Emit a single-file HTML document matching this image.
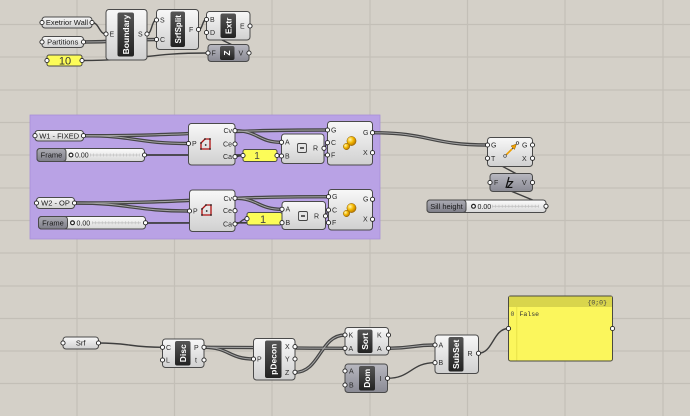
<!DOCTYPE html>
<html><head><meta charset="utf-8"><style>
html,body{margin:0;padding:0;background:#d4d0c8;}
svg{display:block;}
text{font-family:"Liberation Sans",sans-serif;}
.l{font-size:7px;fill:#2a2a2a;}
.b{font-size:8.5px;font-weight:bold;fill:#fff;}
.p{font-size:7.5px;fill:#1a1a1a;}
.w{fill:none;stroke:#3e3e3e;stroke-width:1.4;}
.d{fill:none;stroke:#444;stroke-width:3.4;}
.di{fill:none;stroke:#a4a4a4;stroke-width:1;}
.g{fill:#fff;stroke:#222;stroke-width:0.9;}
.c{fill:url(#gC);stroke:#4a4a4a;stroke-width:1;}
.k{fill:url(#gK);stroke:#4a4a4a;stroke-width:1;}
.bar{fill:url(#gB);}
</style></head><body>
<svg width="690" height="416" viewBox="0 0 690 416" xmlns="http://www.w3.org/2000/svg">
<defs>
<linearGradient id="gC" x1="0" y1="0" x2="0" y2="1"><stop offset="0" stop-color="#f8f8f8"/><stop offset="1" stop-color="#d0d0d0"/></linearGradient>
<linearGradient id="gK" x1="0" y1="0" x2="0" y2="1"><stop offset="0" stop-color="#b8b8c0"/><stop offset="1" stop-color="#8a8a94"/></linearGradient>
<linearGradient id="gB" x1="0" y1="0" x2="0" y2="1"><stop offset="0" stop-color="#555"/><stop offset="1" stop-color="#222"/></linearGradient>
<linearGradient id="gL" x1="0" y1="0" x2="0" y2="1"><stop offset="0" stop-color="#acacb4"/><stop offset="1" stop-color="#7e7e88"/></linearGradient>
<linearGradient id="gV" x1="0" y1="0" x2="0" y2="1"><stop offset="0" stop-color="#fcfcfc"/><stop offset="1" stop-color="#d8d8d8"/></linearGradient>
<radialGradient id="gS" cx="0.35" cy="0.35" r="0.7"><stop offset="0" stop-color="#fff6b0"/><stop offset="0.5" stop-color="#f5b800"/><stop offset="1" stop-color="#b07000"/></radialGradient>
</defs>

<!-- background + grid -->
<rect x="0" y="0" width="690" height="416" fill="#d4d0c8"/>
<g stroke="#c3bfb7" stroke-width="1.2">
<line x1="77" y1="0" x2="77" y2="416"/><line x1="174.5" y1="0" x2="174.5" y2="416"/><line x1="272" y1="0" x2="272" y2="416"/><line x1="370" y1="0" x2="370" y2="416"/><line x1="467.5" y1="0" x2="467.5" y2="416"/><line x1="565" y1="0" x2="565" y2="416"/><line x1="663" y1="0" x2="663" y2="416"/>
<line x1="0" y1="24.5" x2="690" y2="24.5"/><line x1="0" y1="57" x2="690" y2="57"/><line x1="0" y1="90" x2="690" y2="90"/><line x1="0" y1="122.5" x2="690" y2="122.5"/><line x1="0" y1="155" x2="690" y2="155"/><line x1="0" y1="188" x2="690" y2="188"/><line x1="0" y1="220.5" x2="690" y2="220.5"/><line x1="0" y1="253" x2="690" y2="253"/><line x1="0" y1="286" x2="690" y2="286"/><line x1="0" y1="318.5" x2="690" y2="318.5"/><line x1="0" y1="351" x2="690" y2="351"/><line x1="0" y1="383.5" x2="690" y2="383.5"/>
</g>

<!-- group -->
<rect x="30" y="115" width="350" height="124" fill="#b9a2e5" stroke="#a890d8" stroke-width="0.8"/>

<!-- wires: double -->
<g>
<path class="d" d="M83.5,42 C120,42 120,39.5 156.5,39.5"/>
<path class="d" d="M83.5,135.7 C136,135.7 136,143.5 188.5,143.5"/>
<path class="d" d="M83.5,135.7 C205,135.7 205,130 327.5,130"/>
<path class="d" d="M235,130.7 C258,130.7 258,142.3 281.5,142.3"/>
<path class="d" d="M372.5,132.7 C430,132.7 430,145 487.5,145"/>
<path class="d" d="M74.5,203 C132,203 132,211 189.5,211"/>
<path class="d" d="M74.5,203 C200,203 200,196.7 328.5,196.7"/>
<path class="d" d="M235,198.3 C258,198.3 258,209.3 282,209.3"/>
<path class="d" d="M204,347.3 C229,347.3 229,359 253.5,359"/>
<path class="d" d="M204,347.3 C275,347.3 275,348.3 345,348.3"/>
<path class="d" d="M295,372.3 C320,372.3 320,335 345,335"/>
<path class="d" d="M388.5,348.3 C412,348.3 412,345 435,345"/>
</g>
<g>
<path class="di" d="M83.5,42 C120,42 120,39.5 156.5,39.5"/>
<path class="di" d="M83.5,135.7 C136,135.7 136,143.5 188.5,143.5"/>
<path class="di" d="M83.5,135.7 C205,135.7 205,130 327.5,130"/>
<path class="di" d="M235,130.7 C258,130.7 258,142.3 281.5,142.3"/>
<path class="di" d="M372.5,132.7 C430,132.7 430,145 487.5,145"/>
<path class="di" d="M74.5,203 C132,203 132,211 189.5,211"/>
<path class="di" d="M74.5,203 C200,203 200,196.7 328.5,196.7"/>
<path class="di" d="M235,198.3 C258,198.3 258,209.3 282,209.3"/>
<path class="di" d="M204,347.3 C229,347.3 229,359 253.5,359"/>
<path class="di" d="M204,347.3 C275,347.3 275,348.3 345,348.3"/>
<path class="di" d="M295,372.3 C320,372.3 320,335 345,335"/>
<path class="di" d="M388.5,348.3 C412,348.3 412,345 435,345"/>
</g>
<!-- wires: single -->
<g>
<path class="w" d="M92,22.5 C99,22.5 99,34 106,34"/>
<path class="w" d="M147,34 C152,34 151.5,20 156.5,20"/>
<path class="w" d="M82,60.5 C145,60.5 145,53 208,53"/>
<path class="w" d="M198.5,29.5 C203,29.5 202,19.5 206.5,19.5"/>
<path class="w" d="M249,53 L206.5,32.5"/>
<path class="w" style="stroke-width:1.7" d="M144.5,155 L327.5,155"/>
<path class="w" d="M235,156.7 C239,156.7 239,155.5 243,155.5"/>
<path class="w" d="M277,155.5 C279,155.5 279,156 281.5,156"/>
<path class="w" d="M324,148.3 C326,148.3 325.5,142.7 327.5,142.7"/>
<path class="w" style="stroke-width:1.7" d="M145.5,223 L328.5,222.7"/>
<path class="w" d="M235,224 C241,224 241,218.7 247,218.7"/>
<path class="w" d="M325.5,216 C327,216 327,210 328.5,210"/>
<path class="w" d="M546,205.5 L490,182.5"/>
<path class="w" d="M532.5,182.5 L487.5,158.3"/>
<path class="w" d="M98.5,343 C130,343 130,347.3 162.5,347.3"/>
<path class="w" d="M387.5,378.3 C411,378.3 411,362.7 435,362.7"/>
<path class="w" d="M478.5,353.3 C493,353.3 493,328.5 508.5,328.5"/>
</g>

<!-- ===== top row ===== -->
<rect class="c" x="42" y="17" width="50" height="11" rx="3"/>
<text class="p" x="67" y="25" text-anchor="middle">Exetrior Wall</text>
<rect class="c" x="42" y="36.5" width="41.5" height="11" rx="3"/>
<text class="p" x="62.7" y="44.5" text-anchor="middle">Partitions</text>
<rect x="47" y="55" width="35" height="11" rx="2" fill="#fcfc58" stroke="#4a4a4a" stroke-width="1"/>
<text x="65" y="64.5" text-anchor="middle" style="font-size:11px;fill:#333;">10</text>

<rect class="c" x="106" y="9.5" width="41" height="50.5" rx="3"/>
<rect class="bar" x="117.5" y="12.5" width="16.5" height="44" rx="2"/>
<text class="b" transform="translate(126,34.5) rotate(-90)" x="0" y="3" text-anchor="middle">Boundary</text>
<text class="l" x="109.5" y="36.5">E</text><text class="l" x="138" y="36.5">S</text>

<rect class="c" x="156.5" y="9.5" width="42" height="40" rx="3"/>
<rect class="bar" x="170.5" y="11.5" width="14.5" height="35.5" rx="2"/>
<text class="b" transform="translate(177.8,29.3) rotate(-90)" x="0" y="3" text-anchor="middle" style="font-size:8px">SrfSplit</text>
<text class="l" x="160" y="22.5">S</text><text class="l" x="160" y="42">C</text><text class="l" x="189" y="32">F</text>

<rect class="c" x="206.5" y="11.5" width="43.5" height="28.5" rx="3"/>
<rect class="bar" x="220.5" y="13.5" width="15.5" height="24.5" rx="2"/>
<text class="b" transform="translate(228.3,25.8) rotate(-90)" x="0" y="3" text-anchor="middle">Extr</text>
<text class="l" x="210" y="22">B</text><text class="l" x="210" y="35">D</text><text class="l" x="240" y="28.5">E</text>

<rect class="k" x="208" y="44.5" width="41" height="17" rx="3"/>
<rect class="bar" x="220" y="46" width="14.5" height="14" rx="2"/>
<text class="b" transform="translate(227.2,53) rotate(-90)" x="0" y="3" text-anchor="middle">Z</text>
<text class="l" x="211.5" y="55.5">F</text><text class="l" x="238.5" y="55.5">V</text>

<!-- ===== group section 1 ===== -->
<rect class="c" x="35" y="130.5" width="48.5" height="10.5" rx="3"/>
<text class="p" x="59.2" y="138.3" text-anchor="middle">W1 - FIXED</text>

<rect x="37" y="148.5" width="107.5" height="13" rx="3" fill="url(#gV)" stroke="#4a4a4a" stroke-width="1"/>
<rect x="37" y="148.5" width="29" height="13" rx="3" fill="url(#gL)" stroke="#4a4a4a" stroke-width="1"/>
<text class="p" x="51.5" y="157.6" text-anchor="middle">Frame</text>
<circle cx="71" cy="155" r="1.9" fill="#fff" stroke="#222" stroke-width="1.2"/>
<text class="p" x="75" y="157.6" style="font-size:7px">0.00</text>
<line x1="90" y1="155" x2="140" y2="155" stroke="#c4c4c4" stroke-width="0.8"/>
<line x1="90" y1="155" x2="140" y2="155" stroke="#c0c0c0" stroke-width="3" stroke-dasharray="0.7 2.6"/>

<rect class="c" x="188.5" y="123.5" width="46.5" height="41.5" rx="3"/>
<polygon points="201,143 205,139 210,139 210,149 201,149" fill="none" stroke="#b01010" stroke-width="1.3"/>
<g fill="#222"><circle cx="201" cy="143" r="0.9"/><circle cx="205" cy="139" r="0.9"/><circle cx="210" cy="139" r="0.9"/><circle cx="210" cy="149" r="0.9"/><circle cx="201" cy="149" r="0.9"/><circle cx="205.7" cy="145" r="0.9"/></g>
<text class="l" x="192" y="146">P</text>
<text class="l" x="232" y="133.2" text-anchor="end">Cv</text><text class="l" x="232" y="146.5" text-anchor="end">Ce</text><text class="l" x="232" y="159.2" text-anchor="end">Ca</text>

<rect x="243" y="149.5" width="34" height="12" rx="2" fill="#fcfc58" stroke="#4a4a4a" stroke-width="1"/>
<text x="257" y="159" text-anchor="middle" style="font-size:10px;fill:#444;">1</text>

<rect class="c" x="281.5" y="134" width="42.5" height="29.5" rx="3"/>
<rect x="297.5" y="143.5" width="9" height="9" rx="1.5" fill="#e4e4e4" stroke="#444" stroke-width="0.9"/>
<line x1="300" y1="148" x2="304" y2="148" stroke="#111" stroke-width="1.3"/>
<text class="l" x="285" y="144.7">A</text><text class="l" x="285" y="158.4">B</text><text class="l" x="313" y="150.7">R</text>

<rect class="c" x="327.5" y="121.5" width="45" height="43.5" rx="3"/>
<circle cx="351.5" cy="141" r="4.6" fill="url(#gS)" stroke="#8a5a00" stroke-width="0.5"/>
<circle cx="346.5" cy="146.5" r="3.2" fill="url(#gS)" stroke="#8a5a00" stroke-width="0.5"/>
<text class="l" x="331" y="132.4">G</text><text class="l" x="331" y="145.1">C</text><text class="l" x="331" y="157.4">F</text>
<text class="l" x="363" y="135.1">G</text><text class="l" x="363" y="155.1">X</text>

<!-- ===== group section 2 ===== -->
<rect class="c" x="36.5" y="197.5" width="38" height="11" rx="3"/>
<text class="p" x="55.5" y="205.6" text-anchor="middle">W2 - OP</text>

<rect x="38.5" y="216.5" width="107" height="12.5" rx="3" fill="url(#gV)" stroke="#4a4a4a" stroke-width="1"/>
<rect x="38.5" y="216.5" width="29" height="12.5" rx="3" fill="url(#gL)" stroke="#4a4a4a" stroke-width="1"/>
<text class="p" x="53" y="225.4" text-anchor="middle">Frame</text>
<circle cx="72.5" cy="222.8" r="1.9" fill="#fff" stroke="#222" stroke-width="1.2"/>
<text class="p" x="76.5" y="225.4" style="font-size:7px">0.00</text>
<line x1="92" y1="222.8" x2="141" y2="222.8" stroke="#c4c4c4" stroke-width="0.8"/>
<line x1="92" y1="222.8" x2="141" y2="222.8" stroke="#c0c0c0" stroke-width="3" stroke-dasharray="0.7 2.6"/>

<rect class="c" x="189.5" y="190" width="45.5" height="41.5" rx="3"/>
<polygon points="202,209 206,205 211,205 211,215 202,215" fill="none" stroke="#b01010" stroke-width="1.3"/>
<g fill="#222"><circle cx="202" cy="209" r="0.9"/><circle cx="206" cy="205" r="0.9"/><circle cx="211" cy="205" r="0.9"/><circle cx="211" cy="215" r="0.9"/><circle cx="202" cy="215" r="0.9"/><circle cx="206.7" cy="211" r="0.9"/></g>
<text class="l" x="193" y="213.5">P</text>
<text class="l" x="232" y="200.8" text-anchor="end">Cv</text><text class="l" x="232" y="213.2" text-anchor="end">Ce</text><text class="l" x="232" y="226.5" text-anchor="end">Ca</text>

<rect x="247" y="212.5" width="35" height="12.5" rx="2" fill="#fcfc58" stroke="#4a4a4a" stroke-width="1"/>
<text x="263" y="223" text-anchor="middle" style="font-size:11px;fill:#444;">1</text>

<rect class="c" x="282" y="201.5" width="43.5" height="28" rx="3"/>
<rect x="298.5" y="211.5" width="9" height="9" rx="1.5" fill="#e4e4e4" stroke="#444" stroke-width="0.9"/>
<line x1="301" y1="216" x2="305" y2="216" stroke="#111" stroke-width="1.3"/>
<text class="l" x="285.5" y="211.7">A</text><text class="l" x="285.5" y="225.1">B</text><text class="l" x="314" y="218.4">R</text>

<rect class="c" x="328.5" y="189.5" width="44" height="40.5" rx="3"/>
<circle cx="351.5" cy="208" r="4.6" fill="url(#gS)" stroke="#8a5a00" stroke-width="0.5"/>
<circle cx="346.5" cy="213.5" r="3.2" fill="url(#gS)" stroke="#8a5a00" stroke-width="0.5"/>
<text class="l" x="332" y="199.1">G</text><text class="l" x="332" y="212.4">C</text><text class="l" x="332" y="225.1">F</text>
<text class="l" x="363" y="201.7">G</text><text class="l" x="363" y="221.7">X</text>

<!-- ===== right section ===== -->
<rect class="c" x="487.5" y="137.5" width="45" height="29" rx="3"/>
<line x1="505" y1="156" x2="513" y2="148" stroke="#444" stroke-width="1"/>
<polygon points="511,146 516.5,144 514.5,149.5" fill="#f0a000" stroke="#8a5a00" stroke-width="0.5"/>
<line x1="506.5" y1="154.5" x2="512" y2="149" stroke="#f0a000" stroke-width="1.6"/>
<circle cx="505" cy="156" r="1.3" fill="#fff" stroke="#333" stroke-width="0.7"/>
<circle cx="517.5" cy="143" r="1.3" fill="#fff" stroke="#333" stroke-width="0.7"/>
<text class="l" x="491" y="147.5">G</text><text class="l" x="491" y="160.8">T</text>
<text class="l" x="522" y="147.5">G</text><text class="l" x="522" y="160.8">X</text>

<rect class="k" x="490" y="173.5" width="42.5" height="18" rx="3"/>
<text x="507" y="188" style="font-size:10px;font-weight:bold;font-style:italic;fill:#111;">Z</text>
<line x1="506" y1="188" x2="509" y2="177" stroke="#111" stroke-width="1.3"/>
<text class="l" x="494" y="185">F</text><text class="l" x="522" y="185">V</text>

<rect x="427" y="200" width="119" height="12.5" rx="3" fill="url(#gV)" stroke="#4a4a4a" stroke-width="1"/>
<rect x="427" y="200" width="39" height="12.5" rx="3" fill="url(#gL)" stroke="#4a4a4a" stroke-width="1"/>
<text class="p" x="446.5" y="209" text-anchor="middle">Sill height</text>
<circle cx="473.5" cy="206.3" r="1.9" fill="#fff" stroke="#222" stroke-width="1.2"/>
<text class="p" x="477.5" y="209" style="font-size:7px">0.00</text>
<line x1="492" y1="206.3" x2="539" y2="206.3" stroke="#c4c4c4" stroke-width="0.8"/>
<line x1="492" y1="206.3" x2="539" y2="206.3" stroke="#c0c0c0" stroke-width="3" stroke-dasharray="0.7 2.6"/>

<!-- ===== bottom section ===== -->
<rect class="c" x="63" y="337" width="35.5" height="12" rx="3"/>
<text class="p" x="80.7" y="345.6" text-anchor="middle">Srf</text>

<rect class="c" x="162.5" y="339" width="41.5" height="28.5" rx="3"/>
<rect class="bar" x="175" y="341" width="15.5" height="24.5" rx="2"/>
<text class="b" transform="translate(182.8,353.3) rotate(-90)" x="0" y="3" text-anchor="middle">Disc</text>
<text class="l" x="166" y="349.8">C</text><text class="l" x="166" y="362.5">L</text>
<text class="l" x="194" y="349.8">P</text><text class="l" x="195" y="362.5">t</text>

<rect class="c" x="253.5" y="338.5" width="41.5" height="41.5" rx="3"/>
<rect class="bar" x="265" y="340.5" width="16.5" height="37.5" rx="2"/>
<text class="b" transform="translate(273.3,359.3) rotate(-90)" x="0" y="3" text-anchor="middle">pDecon</text>
<text class="l" x="257" y="361.5">P</text>
<text class="l" x="285" y="349.2">X</text><text class="l" x="285" y="361.5">Y</text><text class="l" x="285" y="374.8">Z</text>

<rect class="c" x="345" y="327.5" width="43.5" height="27.5" rx="3"/>
<rect class="bar" x="357.5" y="329.5" width="15" height="23.5" rx="2"/>
<text class="b" transform="translate(365,341.3) rotate(-90)" x="0" y="3" text-anchor="middle">Sort</text>
<text class="l" x="348.5" y="337.5">K</text><text class="l" x="348.5" y="350.8">A</text>
<text class="l" x="377" y="337.5">K</text><text class="l" x="377" y="350.8">A</text>

<rect class="k" x="345" y="364" width="42.5" height="28.5" rx="3"/>
<rect class="bar" x="359" y="366" width="16" height="24.5" rx="2"/>
<text class="b" transform="translate(367,378.3) rotate(-90)" x="0" y="3" text-anchor="middle">Dom</text>
<text class="l" x="349" y="373.5">A</text><text class="l" x="349" y="387.5">B</text>
<text class="l" x="379.5" y="380.8">I</text>

<rect class="c" x="435" y="335" width="43.5" height="38.5" rx="3"/>
<rect class="bar" x="448.5" y="337" width="15" height="34.5" rx="2"/>
<text class="b" transform="translate(456,354.3) rotate(-90)" x="0" y="3" text-anchor="middle">SubSet</text>
<text class="l" x="438.5" y="347.5">A</text><text class="l" x="438.5" y="365.2">B</text>
<text class="l" x="467.5" y="355.8">R</text>

<rect x="508.5" y="296" width="104" height="65" rx="2" fill="#fbf65c" stroke="#4a4a40" stroke-width="1"/>
<rect x="509" y="296.5" width="103" height="10.5" fill="#d9d54c"/>
<line x1="516.8" y1="307" x2="516.8" y2="360.5" stroke="#e2dc44" stroke-width="0.8"/>
<text x="607" y="304.5" text-anchor="end" style="font-family:'Liberation Mono',monospace;font-size:6.5px;fill:#444;">{0;0}</text>
<text x="510.5" y="316" style="font-family:'Liberation Mono',monospace;font-size:6.5px;fill:#444;">0</text>
<text x="519.5" y="316" style="font-family:'Liberation Mono',monospace;font-size:6.5px;fill:#333;">False</text>

<!-- grips -->
<g>
<circle class="g" cx="42" cy="22.5" r="2.1"/><circle class="g" cx="92" cy="22.5" r="2.1"/>
<circle class="g" cx="42" cy="42" r="2.1"/><circle class="g" cx="83.5" cy="42" r="2.1"/>
<circle class="g" cx="47" cy="60.5" r="2.1"/><circle class="g" cx="82" cy="60.5" r="2.1"/>
<circle class="g" cx="106" cy="34" r="2.1"/><circle class="g" cx="147" cy="34" r="2.1"/>
<circle class="g" cx="156.5" cy="20" r="2.1"/><circle class="g" cx="156.5" cy="39.5" r="2.1"/><circle class="g" cx="198.5" cy="29.5" r="2.1"/>
<circle class="g" cx="206.5" cy="19.5" r="2.1"/><circle class="g" cx="206.5" cy="32.5" r="2.1"/><circle class="g" cx="250" cy="26" r="2.1"/>
<circle class="g" cx="208" cy="53" r="2.1"/><circle class="g" cx="249" cy="53" r="2.1"/>

<circle class="g" cx="35" cy="135.7" r="2.1"/><circle class="g" cx="83.5" cy="135.7" r="2.1"/>
<circle class="g" cx="144.5" cy="155" r="2.1"/>
<circle class="g" cx="188.5" cy="143.5" r="2.1"/>
<circle class="g" cx="235" cy="130.7" r="2.1"/><circle class="g" cx="235" cy="144" r="2.1"/><circle class="g" cx="235" cy="156.7" r="2.1"/>
<circle class="g" cx="243" cy="155.5" r="2.1"/><circle class="g" cx="277" cy="155.5" r="2.1"/>
<circle class="g" cx="281.5" cy="142.3" r="2.1"/><circle class="g" cx="281.5" cy="156" r="2.1"/><circle class="g" cx="324" cy="148.3" r="2.1"/>
<circle class="g" cx="327.5" cy="130" r="2.1"/><circle class="g" cx="327.5" cy="142.7" r="2.1"/><circle class="g" cx="327.5" cy="155" r="2.1"/>
<circle class="g" cx="372.5" cy="132.7" r="2.1"/><circle class="g" cx="372.5" cy="152.7" r="2.1"/>

<circle class="g" cx="36.5" cy="203" r="2.1"/><circle class="g" cx="74.5" cy="203" r="2.1"/>
<circle class="g" cx="145.5" cy="222.8" r="2.1"/>
<circle class="g" cx="189.5" cy="211" r="2.1"/>
<circle class="g" cx="235" cy="198.3" r="2.1"/><circle class="g" cx="235" cy="210.7" r="2.1"/><circle class="g" cx="235" cy="224" r="2.1"/>
<circle class="g" cx="247" cy="218.7" r="2.1"/>
<circle class="g" cx="282" cy="209.3" r="2.1"/><circle class="g" cx="282" cy="222.7" r="2.1"/><circle class="g" cx="325.5" cy="216" r="2.1"/>
<circle class="g" cx="328.5" cy="196.7" r="2.1"/><circle class="g" cx="328.5" cy="210" r="2.1"/><circle class="g" cx="328.5" cy="222.7" r="2.1"/>
<circle class="g" cx="372.5" cy="199.3" r="2.1"/><circle class="g" cx="372.5" cy="219.3" r="2.1"/>

<circle class="g" cx="487.5" cy="145" r="2.1"/><circle class="g" cx="487.5" cy="158.3" r="2.1"/>
<circle class="g" cx="532.5" cy="145" r="2.1"/><circle class="g" cx="532.5" cy="158.3" r="2.1"/>
<circle class="g" cx="490" cy="182.5" r="2.1"/><circle class="g" cx="532.5" cy="182.5" r="2.1"/>
<circle class="g" cx="546" cy="206.3" r="2.1"/>

<circle class="g" cx="63" cy="343" r="2.1"/><circle class="g" cx="98.5" cy="343" r="2.1"/>
<circle class="g" cx="162.5" cy="347.3" r="2.1"/><circle class="g" cx="162.5" cy="360" r="2.1"/>
<circle class="g" cx="204" cy="347.3" r="2.1"/><circle class="g" cx="204" cy="360" r="2.1"/>
<circle class="g" cx="253.5" cy="359" r="2.1"/>
<circle class="g" cx="295" cy="346.7" r="2.1"/><circle class="g" cx="295" cy="359" r="2.1"/><circle class="g" cx="295" cy="372.3" r="2.1"/>
<circle class="g" cx="345" cy="335" r="2.1"/><circle class="g" cx="345" cy="348.3" r="2.1"/>
<circle class="g" cx="388.5" cy="335" r="2.1"/><circle class="g" cx="388.5" cy="348.3" r="2.1"/>
<circle class="g" cx="345" cy="371" r="2.1"/><circle class="g" cx="345" cy="385" r="2.1"/><circle class="g" cx="387.5" cy="378.3" r="2.1"/>
<circle class="g" cx="435" cy="345" r="2.1"/><circle class="g" cx="435" cy="362.7" r="2.1"/><circle class="g" cx="478.5" cy="353.3" r="2.1"/>
<circle class="g" cx="508.5" cy="328.5" r="2.1"/><circle class="g" cx="612.5" cy="328.5" r="2.1"/>
</g>
</svg>
</body></html>
